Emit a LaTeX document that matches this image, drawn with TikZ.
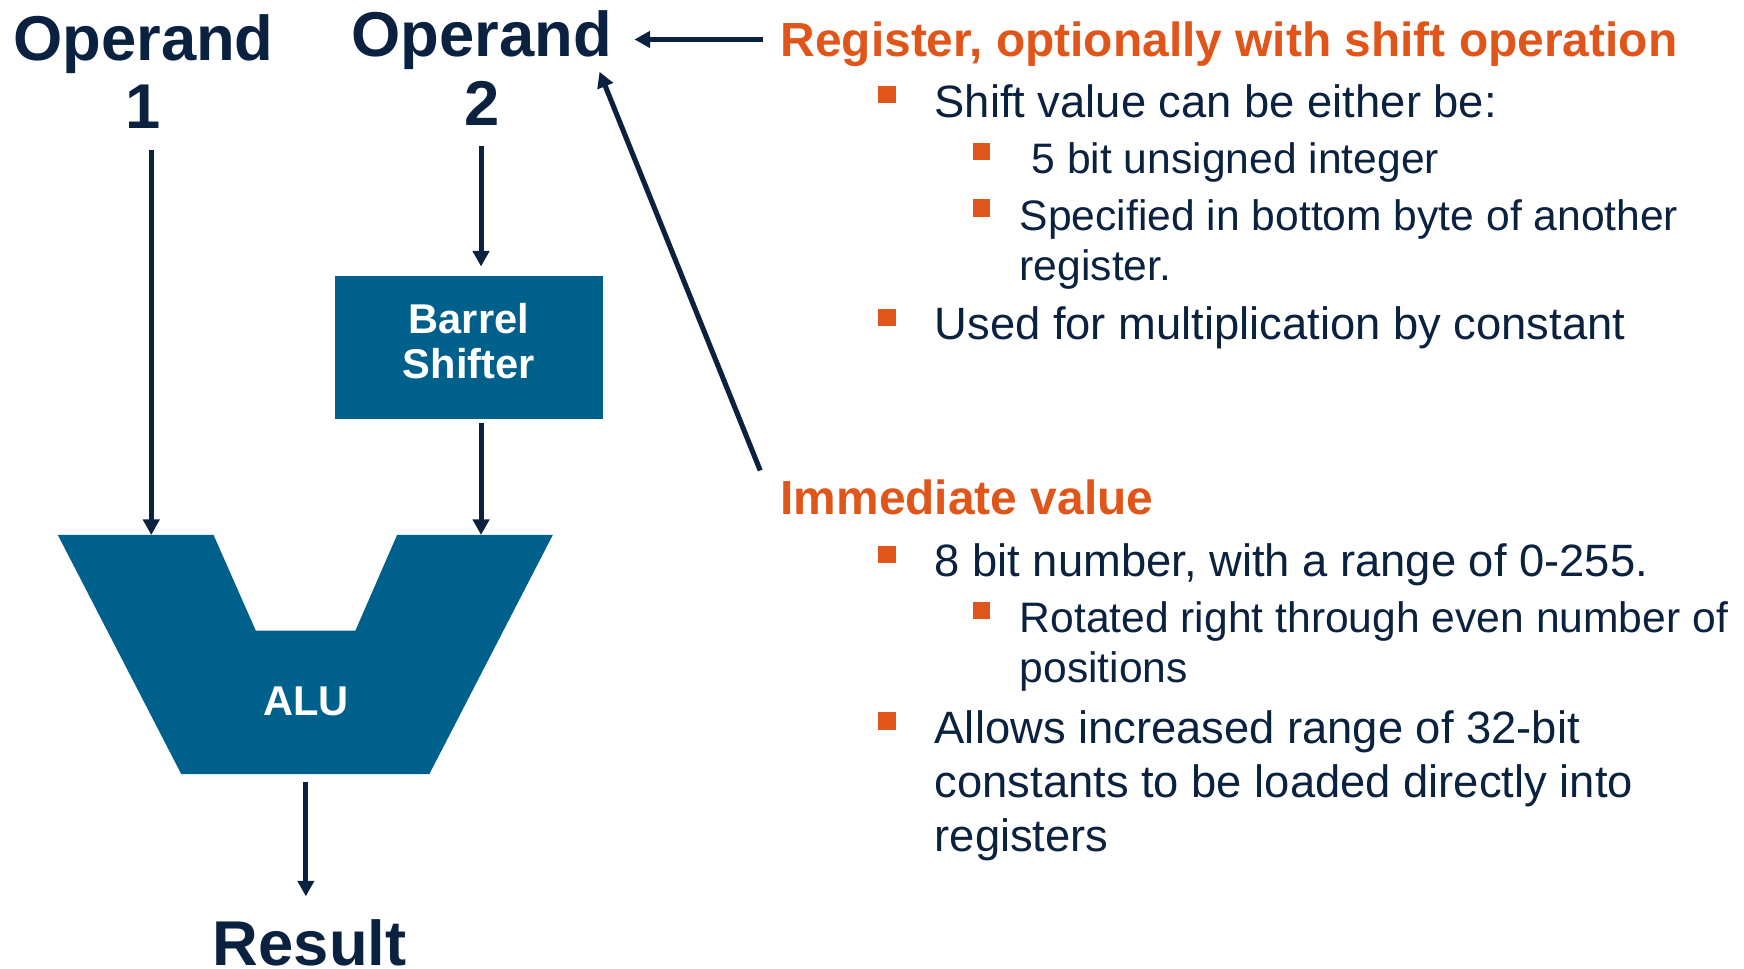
\documentclass[tikz,border=0pt]{standalone}
\usepackage{fontspec}
\setmainfont{Liberation Sans}
\usetikzlibrary{arrows.meta}
\definecolor{navy}{RGB}{10,34,64}
\definecolor{rust}{RGB}{224,86,26}
\definecolor{alublue}{RGB}{0,96,140}
\tikzset{
  arr/.style={navy, line width=2.6pt, -{Triangle[length=0.28cm,width=0.29cm]}},
  opnd/.style={navy, font=\bfseries\fontsize{32.4}{34.9}\selectfont, align=center, inner sep=0},
  hw/.style={text=white, font=\bfseries\fontsize{21.3}{22.8}\selectfont, align=center},
  head/.style={rust, font=\bfseries\fontsize{24.5}{28}\selectfont, anchor=base west, inner sep=0},
  item/.style={navy, font=\fontsize{23.2}{25.9}\selectfont, anchor=base west, inner sep=0, align=left},
  subitem/.style={item, font=\fontsize{21.8}{25.9}\selectfont},
  blt/.style={fill=rust, minimum size=0.31cm, inner sep=0}
}

\begin{document}
\begin{tikzpicture}
    \useasboundingbox (0,0) rectangle (31.36,-17.42);
    % operands and result
    \node[opnd, anchor=base] (op1) at (2.58,-2.31) {Operand\\1};
    \node[opnd, anchor=base] (op2) at (8.66,-2.25) {Operand\\2};
    \node[opnd, anchor=base] (res) at (5.57,-17.36) {Result};
    % barrel shifter and ALU
    \node[hw, fill=alublue, minimum width=4.81cm, minimum height=2.58cm, text depth=0.24cm] (bs) at (8.43,-6.25) {Barrel\\Shifter};
    \fill[alublue] (1.04,-9.62) -- (3.84,-9.62) -- (4.60,-11.34) -- (6.39,-11.34) -- (7.14,-9.62)
        -- (9.94,-9.62) -- (7.72,-13.92) -- (3.26,-13.92) -- cycle;
    \node[hw] (alu) at (5.50,-12.62) {ALU};
    \coordinate (aluA) at (2.72,-9.62);
    \coordinate (aluB) at (8.65,-9.62);
    \coordinate (aluout) at (5.50,-14.06);
    \draw[arr, shorten <=0.38cm] (op1.south -| aluA) -- (aluA);
    \draw[arr, shorten <=0.37cm, shorten >=0.16cm] (op2.south -| aluB) -- (bs.north -| aluB);
    \draw[arr, shorten <=0.06cm] (bs.south -| aluB) -- (aluB);
    \draw[arr, shorten >=0.41cm] (aluout) -- (aluout |- res.north);
    % operand 2 sources
    \node[head] (reg) at (14.03,-1.02) {Register, optionally with shift operation};
    \node[item] (i1) at (16.80,-2.11) {Shift value can be either be:};
    \node[subitem] (i2) at (18.33,-3.12) {\ 5 bit unsigned integer};
    \node[subitem] (i3) at (18.33,-5.05) {Specified in bottom byte of another\\register.};
    \node[item] (i4) at (16.80,-6.11) {Used for multiplication by constant};
    \node[head] (imm) at (14.03,-9.26) {Immediate value};
    \node[item] (i5) at (16.80,-10.37) {8 bit number, with a range of 0-255.};
    \node[subitem] (i6) at (18.33,-12.28) {Rotated right through even number of\\positions};
    \node[item, font=\fontsize{23.2}{27.6}\selectfont] (i7) at (16.80,-15.31) {Allows increased range of 32-bit\\constants to be loaded directly into\\registers};
    \node[blt] (b1) at ([shift={(-0.85,0.405)}]i1.base west) {};
    \node[blt] (b2) at ([shift={(-0.68,0.40)}]i2.base west) {};
    \node[blt] (b3) at ([shift={(-0.68,1.31)}]i3.base west) {};
    \node[blt] (b4) at ([shift={(-0.85,0.405)}]i4.base west) {};
    \node[blt] (b5) at ([shift={(-0.85,0.405)}]i5.base west) {};
    \node[blt] (b6) at ([shift={(-0.68,1.30)}]i6.base west) {};
    \node[blt] (b7) at ([shift={(-0.85,2.345)}]i7.base west) {};
    \coordinate (regtail) at ([shift={(-0.31,0.31)}]reg.base west);
    \coordinate (immtail) at ([shift={(-0.36,0.80)}]imm.base west);
    \coordinate (op2in) at (10.78,-1.29);
    \draw[arr, shorten >=0.40cm] (regtail) -- (regtail -| op2.east);
    \draw[arr] (immtail) -- (op2in);
\end{tikzpicture}
\end{document}
